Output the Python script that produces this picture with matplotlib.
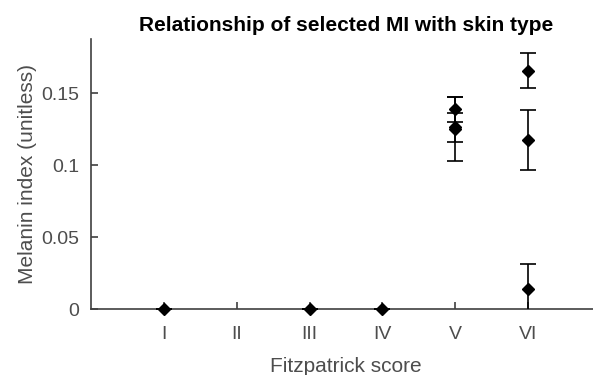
import matplotlib.pyplot as plt

plt.rcParams['font.family'] = ['Liberation Sans', 'DejaVu Sans']

# Fitzpatrick skin type categories
skin_types = ['I', 'II', 'III', 'IV', 'V', 'VI']

# selected melanin index values (score, mean, std)
score = [1, 3, 4, 5, 5, 5, 6, 6, 6]
mi_mean = [0.0, 0.0, 0.0, 0.139, 0.1264, 0.125, 0.1657, 0.1175, 0.0141]
mi_err = [0.0, 0.0, 0.0, 0.0087, 0.0101, 0.0221, 0.0122, 0.0206, 0.017]

grey = '#404040'
text_grey = '#4d4d4d'

fig = plt.figure(figsize=(5.93, 3.75), dpi=100)
ax = fig.add_axes([0.1535, 0.176, 0.86, 0.719])

# error bars are clipped at the axes, markers are not
eb = ax.errorbar(score, mi_mean, yerr=mi_err, fmt='none', ecolor='black',
                 elinewidth=1.2, capsize=5.5, capthick=1.2, zorder=3)
for cap in eb[1]:
    cap.set_clip_on(True)
ax.plot(score, mi_mean, 'D', color='black', ms=6.2, mew=1,
        zorder=4, clip_on=False)

ax.set_xlim(0, 7)
ax.set_ylim(0, 0.1875)
ax.set_xticks(range(1, 7))
ax.set_xticklabels(skin_types)
ax.set_yticks([0, 0.05, 0.1, 0.15])
ax.set_yticklabels(['0', '0.05', '0.1', '0.15'])

for side in ['top', 'right']:
    ax.spines[side].set_visible(False)
for side in ['left', 'bottom']:
    ax.spines[side].set_color(grey)
    ax.spines[side].set_linewidth(1.2)
    ax.spines[side].set_zorder(2)

ax.tick_params(direction='in', length=5, width=1.2, color=grey,
               labelcolor=text_grey, labelsize=14)
ax.tick_params(axis='x', pad=12)
ax.tick_params(axis='y', pad=8.5)

ax.set_xlabel('Fitzpatrick score', fontsize=15, color=text_grey, labelpad=10)
ax.set_ylabel('Melanin index (unitless)', fontsize=15, color=text_grey,
              labelpad=3)
ax.set_title('Relationship of selected MI with skin type', fontsize=15,
             fontweight='bold', pad=6)

fig.savefig('out.png', dpi=100)
